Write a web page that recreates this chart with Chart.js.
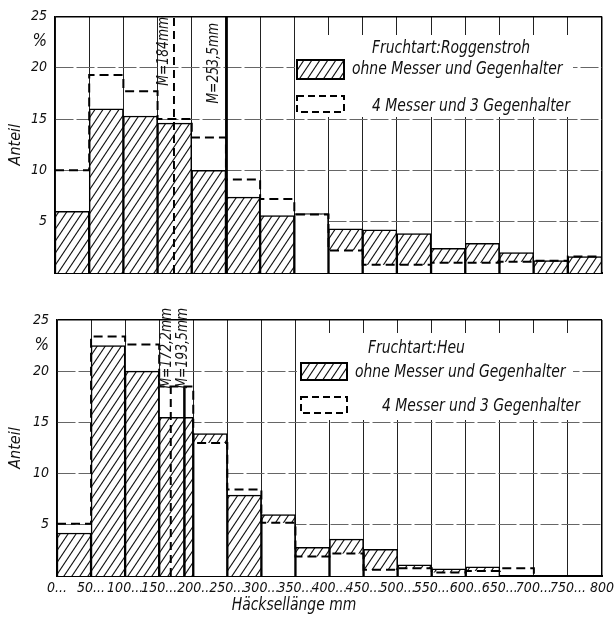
<!DOCTYPE html>
<html><head><meta charset="utf-8">
<script src="https://cdn.jsdelivr.net/npm/chart.js@4.4.0/dist/chart.umd.min.js"></script>
<style>html,body{margin:0;padding:0;background:#fff;}canvas{display:block;}</style>
</head><body>
<canvas id="c1" width="614" height="300"></canvas>
<canvas id="c2" width="614" height="320"></canvas>
<script>
// ---------------- data ----------------
const binStarts = [0,50,100,150,200,250,300,350,400,450,500,550,600,650,700,750];
const binWidth = 50;
const xTickValues = [0,50,100,150,200,250,300,350,400,450,500,550,600,650,700,750,800];
const xTickLabels = ['0...','50...','100...','150...','200..','250...','300...','350...','400...','450...','500...','550...','600..','650...','700...','750...','800'];
const yTickValues = [5,10,15,20,22.5,25];
const yTickLabels = ['5','10','15','20','%','25'];
const seriesLabels = ['ohne Messer und Gegenhalter','4 Messer und 3 Gegenhalter'];

// Fruchtart: Roggenstroh (oben)
const roggenOhne   = [6.0,16.0,15.3,14.6,10.0,7.4,5.6,5.8,4.3,4.2,3.85,2.4,2.9,2.0,1.2,1.6];
const roggenMesser = [10.0,19.3,17.7,15.0,13.2,9.1,7.2,5.7,2.2,0.8,0.8,1.0,1.0,1.1,1.2,1.6];
const roggenMedians = [174,251];
const roggenMedianLabels = ['M=184mm','M=253,5mm'];
const roggenMedianTop = 25;

// Fruchtart: Heu (unten)
const heuOhne   = [4.2,22.5,20.0,15.5,13.9,7.9,6.0,2.8,3.6,2.6,1.1,0.7,0.9,0,0,0];
const heuMesser = [5.1,23.4,22.6,18.5,13.0,8.45,5.2,1.9,2.2,0.6,0.75,0.35,0.5,0.75,0,0];
const heuMedians = [167,187];
const heuMedianLabels = ['M=172,2mm','M=193,5mm'];
const heuMedianTop = 18.5;

const xTitle = 'Häcksellänge mm';
const yTitle = 'Anteil';

// ---------------- rendering ----------------
const FAM = "'Liberation Sans Narrow','DejaVu Sans Condensed','Arial Narrow','Liberation Sans',sans-serif";
Chart.defaults.font.family = FAM;
Chart.defaults.font.style = 'italic';
Chart.defaults.color = '#111';
const NARROW = 0.86;

function makeHatch(){
  const w=8,h=12,c=document.createElement('canvas');c.width=w;c.height=h;
  const g=c.getContext('2d');g.fillStyle='#fff';g.fillRect(0,0,w,h);
  g.strokeStyle='#111';g.lineWidth=1.1;
  for(const k of [-1,0,1]){g.beginPath();g.moveTo(k*w-w*0.5,h*1.5);g.lineTo(k*w+w*1.5,-h*0.5);g.stroke();}
  return g.createPattern(c,'repeat');
}
const hatch = makeHatch();

const centers = binStarts.map(s=>s+binWidth/2);
const barData = v => centers.map((x,i)=>({x, y:v[i]}));
const stepData = v => { const p = binStarts.map((s,i)=>({x:s,y:v[i]})); p.push({x:binStarts[binStarts.length-1]+binWidth,y:v[v.length-1]}); return p; };

const specs = {
  c1: {title:'Fruchtart:Roggenstroh', ohne:roggenOhne, messer:roggenMesser, medians:roggenMedians, mLabels:roggenMedianLabels, mTop:roggenMedianTop,
       showX:false, pad:{top:16,right:12,left:0,bottom:0}, yWidth:55, xHeight:27,
       legend:{box:[295,35,573,117], title:[372,48], sw1:[297,60,47,19], t1:[352,69], sw2:[297,96,47,16], t2:[372,106]},
       mLab:{dx:[10,13], yEnd:[17,23]}},
  c2: {title:'Fruchtart:Heu', ohne:heuOhne, messer:heuMesser, medians:heuMedians, mLabels:heuMedianLabels, mTop:heuMedianTop,
       showX:true, pad:{top:20,right:12,left:0,bottom:0}, yWidth:57, xHeight:44,
       legend:{box:[297,33,573,120], title:[368,48], sw1:[301,63,46,17], t1:[355,72], sw2:[301,97,46,16], t2:[382,106]},
       mLab:{dx:[4,2], yEnd:[8,8]}, xTitlePos:[294,305]}
};

function narrowText(ctx, t, x, y, align){
  ctx.save(); ctx.translate(x,y); ctx.scale(NARROW,1); ctx.textAlign=align||'left'; ctx.fillText(t,0,0); ctx.restore();
}

const decor = {
  id:'decor',
  beforeDatasetsDraw(chart){
    const s = specs[chart.canvas.id], L = s.legend, ctx = chart.ctx;
    ctx.save(); ctx.fillStyle='#fff';
    ctx.fillRect(L.box[0],L.box[1],L.box[2]-L.box[0],L.box[3]-L.box[1]);
    ctx.restore();
  },
  afterDatasetsDraw(chart){
    const s = specs[chart.canvas.id], L = s.legend, ctx = chart.ctx;
    const ds = chart.data.datasets;
    ctx.save();
    ctx.fillStyle='#111'; ctx.textBaseline='middle';
    ctx.font = `italic 18px ${FAM}`;
    narrowText(ctx, s.title, L.title[0], L.title[1]);
    ctx.fillStyle = hatch; ctx.fillRect(L.sw1[0],L.sw1[1],L.sw1[2],L.sw1[3]);
    ctx.strokeStyle='#000'; ctx.lineWidth=2; ctx.strokeRect(L.sw1[0],L.sw1[1],L.sw1[2],L.sw1[3]);
    ctx.fillStyle='#111';
    narrowText(ctx, ds[0].label, L.t1[0], L.t1[1]);
    ctx.setLineDash([7,4]); ctx.strokeRect(L.sw2[0],L.sw2[1],L.sw2[2],L.sw2[3]); ctx.setLineDash([]);
    narrowText(ctx, ds[2].label, L.t2[0], L.t2[1]);
    // median labels
    const xs = chart.scales.x;
    ctx.font = `italic 16px ${FAM}`;
    s.medians.forEach((m,i)=>{
      ctx.save();
      ctx.translate(xs.getPixelForValue(m)-s.mLab.dx[i], s.mLab.yEnd[i]);
      ctx.rotate(-Math.PI/2); ctx.scale(NARROW,1); ctx.textAlign='right'; ctx.textBaseline='middle';
      ctx.fillText(s.mLabels[i],0,0);
      ctx.restore();
    });
    if (s.xTitlePos){
      ctx.font = `italic 18px ${FAM}`; ctx.textBaseline='middle';
      narrowText(ctx, xTitle, s.xTitlePos[0], s.xTitlePos[1], 'center');
    }
    ctx.restore();
  }
};

function build(id){
  const s = specs[id];
  const cover = s.messer.map((d,i)=> d < s.ohne[i] ? d : null);
  const datasets = [
    {type:'bar', label:seriesLabels[0], data:barData(s.ohne), backgroundColor:hatch, borderColor:'#000', borderWidth:1.5,
     grouped:false, barPercentage:1, categoryPercentage:1, order:10},
    {type:'bar', label:'cover', data:barData(cover), backgroundColor:'#fff', borderColor:'#000',
     borderWidth:{left:1.5,right:1.5,top:0,bottom:0}, grouped:false, barPercentage:1, categoryPercentage:1, order:9},
    {type:'line', label:seriesLabels[1], data:stepData(s.messer), stepped:true, borderColor:'#000', borderWidth:2,
     borderDash:[9,5], pointRadius:0, fill:false, order:5}
  ];
  s.medians.forEach((m,i)=>datasets.push({type:'line', label:s.mLabels[i], data:[{x:m,y:0},{x:m,y:s.mTop}],
     borderColor:'#000', borderWidth: i===0?2:2.5, borderDash: i===0?[8,5]:[], pointRadius:0, fill:false, order:1}));

  new Chart(document.getElementById(id), {
    type:'bar',
    data:{datasets},
    plugins:[decor],
    options:{
      responsive:false, animation:false, events:[],
      layout:{padding:s.pad},
      plugins:{legend:{display:false}, tooltip:{enabled:false}},
      scales:{
        x:{type:'linear', min:0, max:800, offset:false,
           afterBuildTicks:sc=>{sc.ticks = xTickValues.map(v=>({value:v}));},
           afterFit:sc=>{sc.height = s.xHeight; sc.paddingLeft=0; sc.paddingRight=0;},
           grid:{offset:false, drawTicks:false, color:c=> (c.tick && c.tick.value===800)?'#000':'#222',
                 lineWidth:c=>(c.tick && c.tick.value===800)?1.5:1},
           border:{display:true, color:'#000', width:2},
           ticks:{display:s.showX, autoSkip:false, maxRotation:0, minRotation:0, padding:4,
                  font:{size:14, style:'italic', family:FAM}, color:'#111',
                  callback:(v,i)=>xTickLabels[i]}},
        y:{type:'linear', min:0, max:25,
           afterBuildTicks:sc=>{sc.ticks = yTickValues.map(v=>({value:v}));},
           afterFit:sc=>{sc.width = s.yWidth;},
           grid:{drawTicks:false, color:c=>{const v=c.tick&&c.tick.value; return v===22.5?'rgba(0,0,0,0)':(v===25?'#000':'#666');},
                 lineWidth:c=>(c.tick&&c.tick.value===25)?1.5:1},
           border:{display:true, color:'#000', width:1.5, dash:c=> (c.tick && c.tick.value!==25)?[18,3]:[]},
           ticks:{padding:8, color:'#111',
                  font:c=>({size:(c.tick&&c.tick.value===22.5)?17:14, style:'italic', family:FAM}),
                  callback:(v,i)=>yTickLabels[i]},
           title:{display:true, text:yTitle, font:{size:16, style:'italic', family:FAM}, padding:{top:6,bottom:0}, color:'#111'}}
      }
    }
  });
}
build('c1');
build('c2');
</script>
</body></html>
